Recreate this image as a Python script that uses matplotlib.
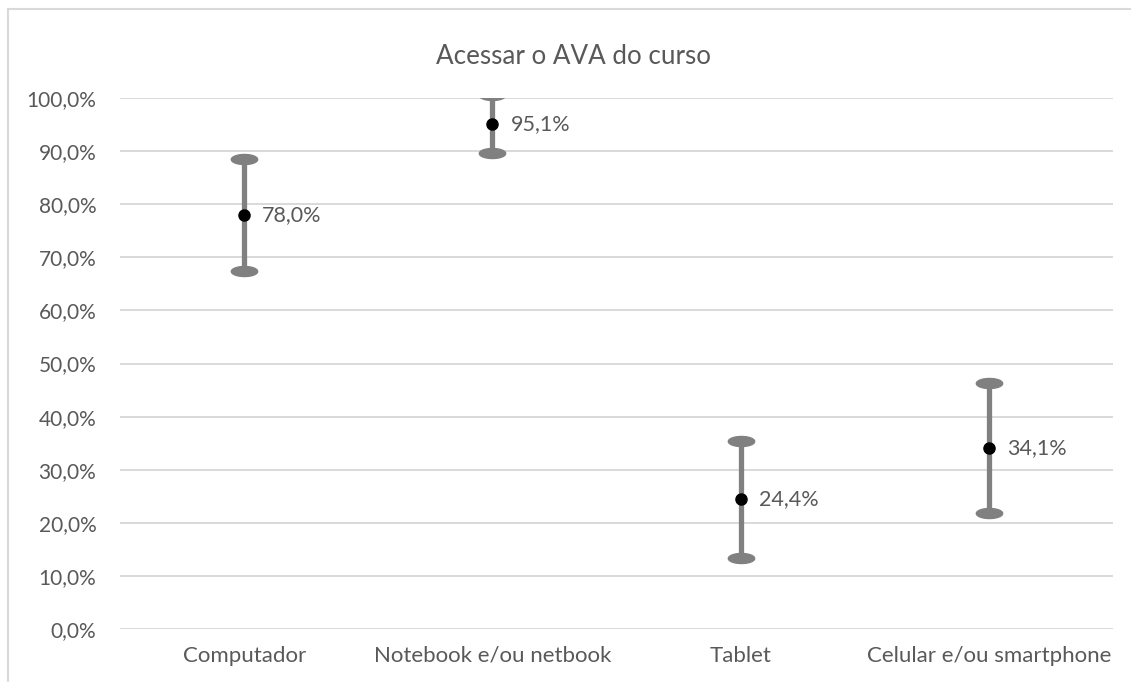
import matplotlib.pyplot as plt
import numpy as np
from matplotlib.path import Path
from matplotlib.patches import Rectangle
from matplotlib.ticker import FuncFormatter

categorias = ["Computador", "Notebook e/ou netbook", "Tablet", "Celular e/ou smartphone"]
valores = [78.0, 95.1, 24.4, 34.1]
erros = [10.6, 5.5, 11.0, 12.2]
rotulos = ["78,0%", "95,1%", "24,4%", "34,1%"]

plt.rcParams["font.family"] = ["Lato", "DejaVu Sans"]
texto = "#595959"

fig = plt.figure(figsize=(11.31, 6.82), dpi=100)
ax = fig.add_axes([0.1061, 0.0777, 0.8780, 0.7786])

x = np.arange(len(categorias))
v = np.array(valores)
e = np.array(erros)

# elipse para as pontas das barras de erro
t = np.linspace(0, 2 * np.pi, 60)
elipse = Path(np.column_stack([np.cos(t), 0.38 * np.sin(t)]))

ax.errorbar(x, v, yerr=e, fmt="none", ecolor="#808080", elinewidth=3.8,
            capsize=0, zorder=3)
ax.plot(x, v + e, linestyle="none", marker=elipse, markersize=19,
        color="#808080", zorder=3)
ax.plot(x, v - e, linestyle="none", marker=elipse, markersize=19,
        color="#808080", zorder=3)
ax.plot(x, v, linestyle="none", marker="o", markersize=8, color="black", zorder=4)

for xi, vi, r in zip(x, v, rotulos):
    ax.annotate(r, (xi, vi), xytext=(13, 0), textcoords="offset points",
                ha="left", va="center", fontsize=15.5, color=texto)

ax.set_xlim(-0.5, 3.5)
ax.set_ylim(0, 100)
ax.set_yticks(np.arange(0, 101, 10))
ax.yaxis.set_major_formatter(FuncFormatter(lambda y, p: f"{y:.1f}%".replace(".", ",")))
ax.set_xticks(x)
ax.set_xticklabels(categorias)
ax.tick_params(axis="both", length=0, labelcolor=texto)
ax.tick_params(axis="y", pad=17, labelsize=15)
ax.tick_params(axis="x", pad=12, labelsize=16)
ax.grid(axis="y", color="#d9d9d9", linewidth=1.4)
ax.set_axisbelow(True)
for s in ax.spines.values():
    s.set_visible(False)

fig.text(574 / 1131, 1 - 56 / 682, "Acessar o AVA do curso", ha="center", va="center",
         fontsize=18.7, color=texto)

fig.patches.append(Rectangle((8 / 1131, -0.1), 1.2, 1.1 - 9 / 682,
                             transform=fig.transFigure, fill=False,
                             edgecolor="#d9d9d9", linewidth=1.5))

fig.savefig("out.png", dpi=100)
